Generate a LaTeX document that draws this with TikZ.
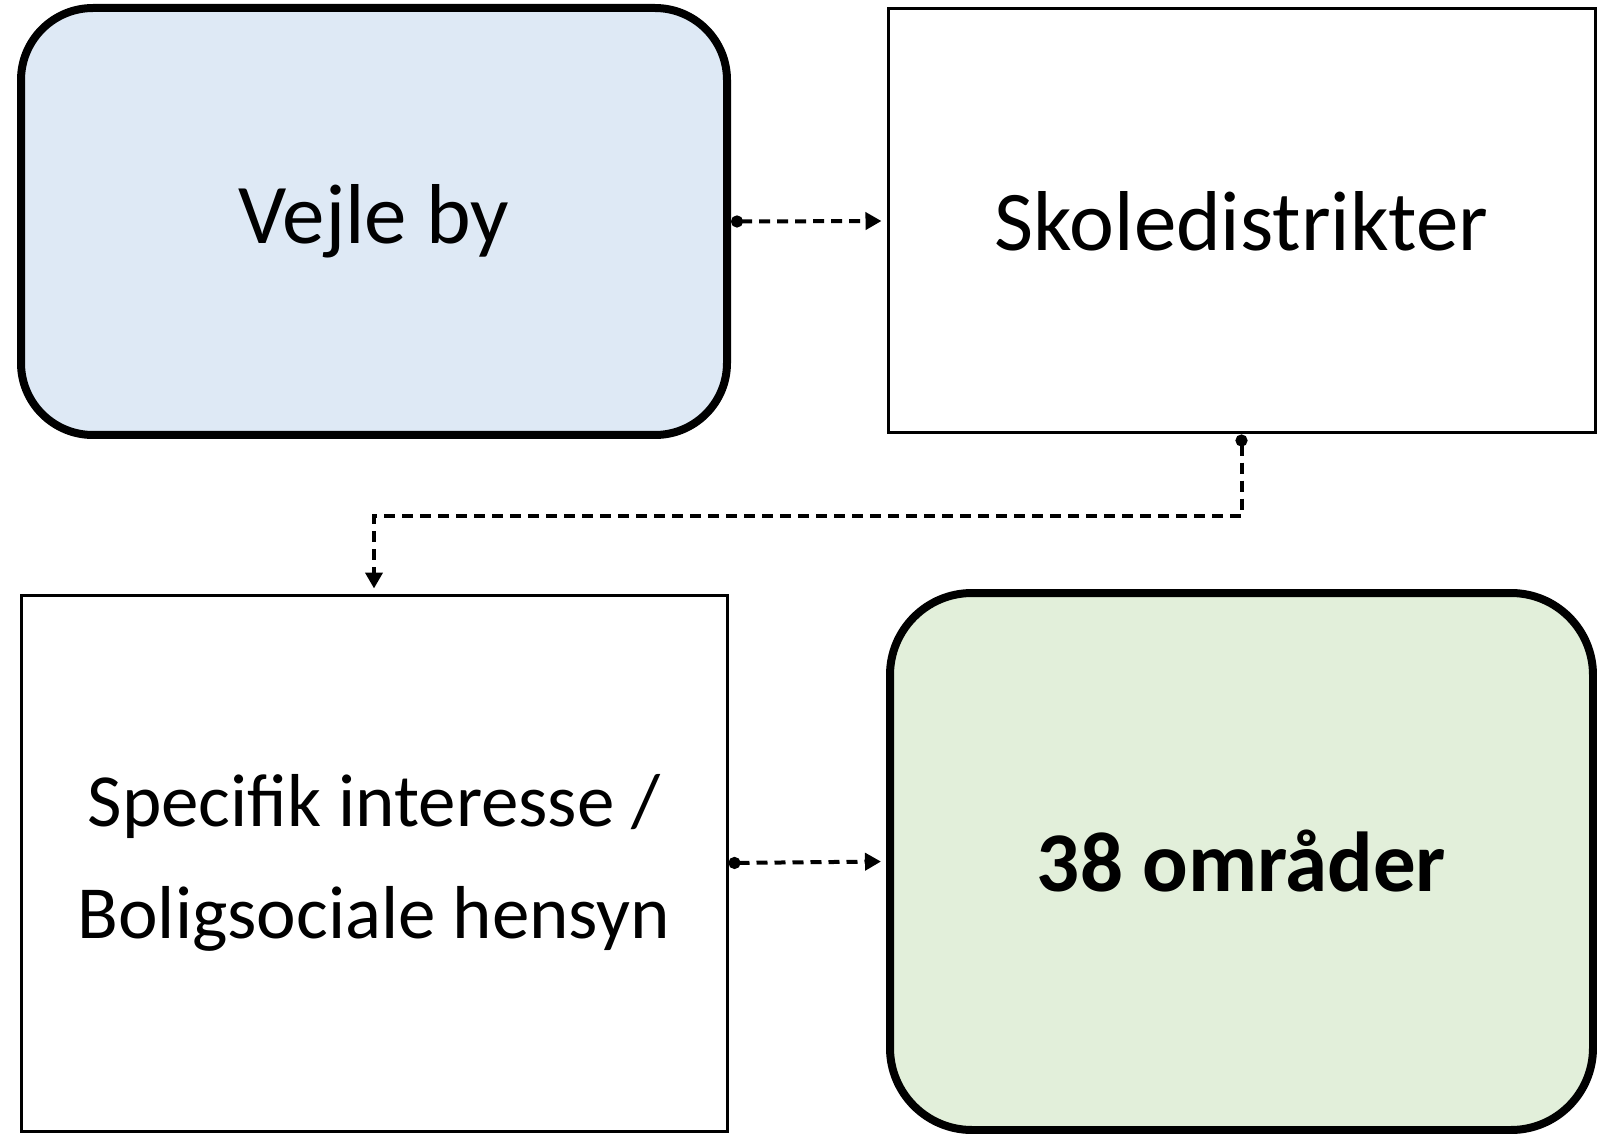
\documentclass[tikz,border=0pt]{standalone}
\usepackage{fontspec}
\setmainfont{Carlito}
\usetikzlibrary{arrows.meta}
\definecolor{boxblue}{HTML}{DEE9F5}
\definecolor{boxgreen}{HTML}{E2EFDA}
\begin{document}
\begin{tikzpicture}[x=0.5pt,y=-0.5pt,
  bigtext/.style={font=\fontsize{42.5}{57}\selectfont, align=center},
  roundbox/.style={draw=black, line width=4pt, rounded corners=36pt, bigtext},
  plainbox/.style={draw=black, line width=1.5pt, bigtext},
  conn/.style={draw=black, line width=2pt, dash pattern=on 5.5pt off 3.5pt,
    {Circle[length=6pt]}-{Triangle[length=8pt,width=8.5pt]}, shorten >=2.5pt}]
\useasboundingbox (0,0) rectangle (1597,1134);
\node[roundbox, fill=boxblue, minimum width=353pt, minimum height=213.5pt] (v) at (374,221.5) {Vejle by};
\node[plainbox, fill=white, minimum width=353.5pt, minimum height=212pt] (s) at (1241.5,221) {Skoledistrikter};
\node[plainbox, fill=white, minimum width=353pt, minimum height=268pt, font=\fontsize{37.5}{56}\selectfont] (sp) at (374,863) {Specifik interesse /\\Boligsociale hensyn};
\node[roundbox, rounded corners=41pt, fill=boxgreen, minimum width=351.5pt, minimum height=268.5pt] (o) at (1241.5,861.5) {\textbf{38 områder}};
\draw[conn] (v.east) -- (s.west);
\draw[conn] (s.south) -- ++(0,81) -| (sp.north);
\draw[conn] (sp.east) -- (o.west);
\end{tikzpicture}
\end{document}
